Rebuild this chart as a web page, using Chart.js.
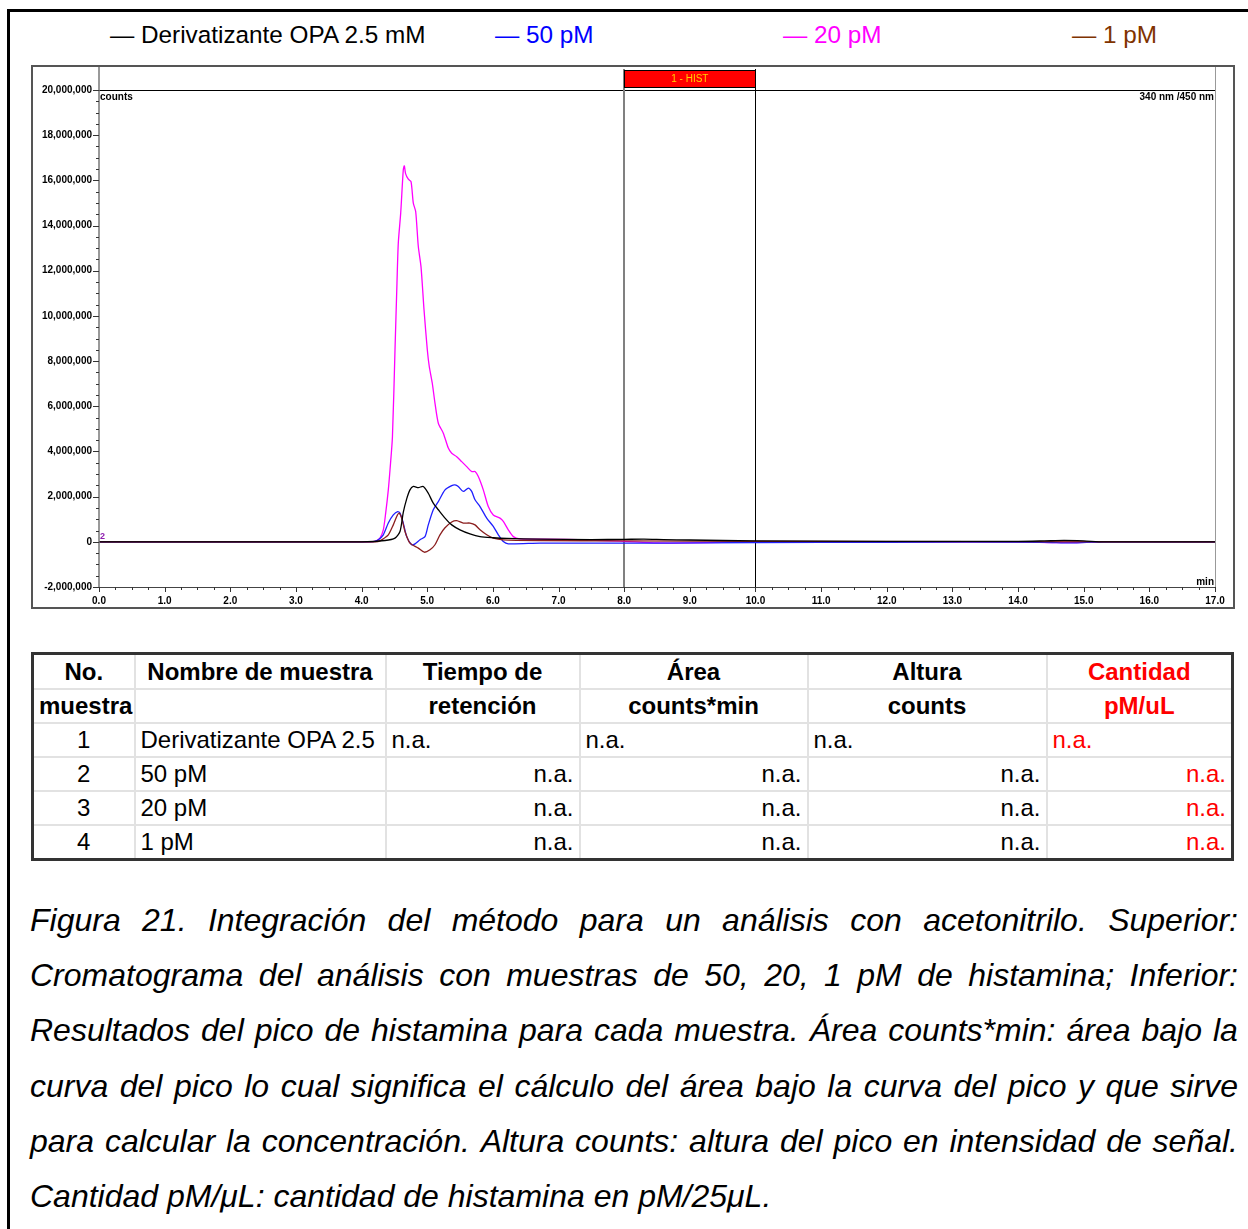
<!DOCTYPE html>
<html>
<head>
<meta charset="utf-8">
<script src="https://cdn.jsdelivr.net/npm/chart.js@4.4.1/dist/chart.umd.min.js"></script>
<style>
    body { margin: 0; background: #fff; font-family: "Liberation Sans", Arial, sans-serif; }
    #page { position: relative; width: 1248px; height: 1229px; overflow: hidden; }
    #frame { position: absolute; left: 7px; top: 9px; width: 1280px; height: 1280px; border: 3px solid #000; }
    .leg { position: absolute; top: 23px; font-size: 24.3px; line-height: 24px; white-space: nowrap; }
    #plotbox { position: absolute; left: 31px; top: 65px; width: 1200px; height: 540px; border: 2px solid #555; }
    #tbl { position: absolute; left: 31px; top: 652px; width: 1200px; border-collapse: collapse; table-layout: fixed;
        border: 3px solid #333; font-size: 24px; }
    #tbl td { border: 2px solid #e2e2e2; padding: 0 5px; height: 32px; line-height: 32px; white-space: nowrap; overflow: hidden; }
    #tbl tr.h1 td { height: 33px; line-height: 33px; }
    #tbl tr.h td { font-weight: bold; text-align: center; }
    #tbl td.c { text-align: center; }
    #tbl td.r { text-align: right; }
    #tbl .red { color: #ff0000; }
    .cap { position: absolute; left: 30px; width: 1208px; height: 55px; line-height: 55px; font-size: 32px;
        font-style: italic; white-space: nowrap; display: flex; justify-content: space-between; }
    .cap.last { justify-content: flex-start; }
</style>
</head>
<body>
<div id="page">
    <div id="frame"></div>
    <div id="legend"></div>
    <div id="plotbox"><canvas id="chromchart" width="1200" height="540"></canvas></div>
    <table id="tbl">
        <colgroup>
            <col style="width:102px"><col style="width:251px"><col style="width:194px">
            <col style="width:228px"><col style="width:239px"><col style="width:186px">
        </colgroup>
        <tr class="h h1"><td>No.</td><td>Nombre de muestra</td><td>Tiempo de</td><td>Área</td><td>Altura</td><td class="red">Cantidad</td></tr>
        <tr class="h"><td>muestra</td><td></td><td>retención</td><td>counts*min</td><td>counts</td><td class="red">pM/uL</td></tr>
        <tbody id="rows"></tbody>
    </table>
    <div id="caption"></div>
</div>
<script>
"use strict";

/* series names and colours */
var seriesNames = ['Derivatizante OPA 2.5 mM', '50 pM', '20 pM', '1 pM'];
var seriesColors = ['#000000', '#1f1fff', '#ff00ff', '#8b1e1e'];
var legendColors = ['#000000', '#0000ff', '#ff00ff', '#7f3300'];
var legendLeft = [110, 495, 783, 1072];

/* black: derivatizante OPA 2.5 mM */
var timeOPA = [0, 4.0, 4.357, 4.509, 4.585, 4.635, 4.687, 4.737, 4.788, 4.864, 4.940, 5.016, 5.092, 5.169,
    5.271, 5.373, 5.499, 5.651, 5.804, 6.006, 6.211, 6.718, 7.5, 8.0, 8.3, 8.6, 9.0, 10.0, 12.0, 14.0,
    14.4, 14.7, 15.0, 15.3, 17.0];
var countsOPA = [0, 0, 58000, 164000, 456000, 1300000, 1900000, 2300000, 2450000, 2400000, 2450000, 2150000,
    1710000, 1420000, 1050000, 750000, 530000, 350000, 230000, 180000, 150000, 120000, 100000, 110000, 120000,
    100000, 80000, 40000, 20000, 20000, 40000, 60000, 40000, 0, 0];

/* blue: 50 pM */
var time50 = [0, 4.0, 4.20, 4.255, 4.331, 4.407, 4.483, 4.550, 4.585, 4.635, 4.687, 4.763, 4.814, 4.890,
    4.966, 5.016, 5.092, 5.169, 5.271, 5.373, 5.423, 5.473, 5.549, 5.626, 5.677, 5.728, 5.804, 5.906, 6.006,
    6.083, 6.159, 6.235, 6.718, 7.5, 8.5, 10.0, 12.0, 14.4, 14.8, 15.3, 17.0];
var counts50 = [0, 0, 15000, 88000, 310000, 830000, 1190000, 1340000, 1270000, 830000, 230000, -130000,
    -90000, 90000, 230000, 750000, 1420000, 1780000, 2300000, 2490000, 2520000, 2450000, 2230000, 2380000,
    2230000, 1860000, 1560000, 1050000, 680000, 310000, 13000, -88000, -58000, -60000, -60000, -30000,
    -20000, -20000, -50000, 0, 0];

/* magenta: 20 pM */
var time20 = [0, 4.0, 4.174, 4.230, 4.280, 4.331, 4.367, 4.407, 4.433, 4.470, 4.509, 4.539, 4.559, 4.596,
    4.635, 4.651, 4.670, 4.712, 4.753, 4.788, 4.824, 4.864, 4.905, 4.951, 5.001, 5.031, 5.077, 5.118, 5.169,
    5.245, 5.321, 5.373, 5.449, 5.525, 5.601, 5.677, 5.728, 5.778, 5.854, 5.930, 6.006, 6.108, 6.159, 6.235,
    6.311, 6.413, 6.718, 7.5, 8.0, 8.5, 9.0, 10.0, 12.0, 14.0, 14.7, 15.3, 17.0];
var counts20 = [0, 0, 13000, 58000, 164000, 531000, 1270000, 2300000, 3190000, 4650000, 8500000, 11450000,
    13220000, 14560000, 16460000, 16640000, 16300000, 16050000, 15940000, 14990000, 14620000, 13070000,
    12180000, 10270000, 8500000, 7760000, 7020000, 6140000, 5250000, 4810000, 4150000, 3920000, 3770000,
    3550000, 3330000, 3110000, 3110000, 2890000, 2300000, 1560000, 1190000, 1050000, 900000, 530000, 230000,
    130000, 120000, 80000, 20000, -50000, -50000, 0, 0, 0, -40000, 0, 0];

/* brown: 1 pM */
var time1 = [0, 4.0, 4.25, 4.306, 4.407, 4.483, 4.535, 4.570, 4.611, 4.661, 4.737, 4.864, 4.955, 5.042,
    5.118, 5.194, 5.271, 5.373, 5.449, 5.549, 5.651, 5.728, 5.804, 5.906, 6.006, 6.159, 6.718, 8.0, 10.0, 17.0];
var counts1 = [0, 0, 15000, 88000, 310000, 750000, 1120000, 1270000, 1050000, 460000, -58000, -280000,
    -460000, -350000, -130000, 310000, 620000, 880000, 940000, 830000, 830000, 750000, 530000, 310000,
    160000, 88000, 58000, 40000, 20000, 0];

/* axes */
var xMin = 0, xMax = 17, xMajor = 1, xMinor = 0.25;
var yMin = -2000000, yMax = 20000000, yMajor = 2000000, yMinor = 500000;
var histWindow = [8.0, 10.0];
var histLabel = '1 - HIST';

/* table */
var sampleNo = ['1', '2', '3', '4'];
var sampleName = ['Derivatizante OPA 2.5', '50 pM', '20 pM', '1 pM'];

var captionLines = [
    'Figura 21. Integración del método para un análisis con acetonitrilo. Superior:',
    'Cromatograma del análisis con muestras de 50, 20, 1 pM de histamina; Inferior:',
    'Resultados del pico de histamina para cada muestra. Área counts*min: área bajo la',
    'curva del pico lo cual significa el cálculo del área bajo la curva del pico y que sirve',
    'para calcular la concentración. Altura counts: altura del pico en intensidad de señal.',
    'Cantidad pM/μL: cantidad de histamina en pM/25μL.'
];

function pairs(xs, ys) {
    return xs.map(function (x, i) { return { x: x, y: ys[i] }; });
}

document.addEventListener("DOMContentLoaded", function () {
    /* legend */
    var legend = document.getElementById('legend');
    seriesNames.forEach(function (name, i) {
        var s = document.createElement('span');
        s.className = 'leg';
        s.style.left = legendLeft[i] + 'px';
        s.style.color = legendColors[i];
        s.textContent = '\u2014 ' + name;
        legend.appendChild(s);
    });

    /* table rows */
    var rows = document.getElementById('rows');
    sampleNo.forEach(function (no, i) {
        var tr = document.createElement('tr');
        var align = i === 0 ? '' : 'r';
        tr.innerHTML = '<td class="c">' + no + '</td><td>' + sampleName[i] + '</td>' +
            '<td class="' + align + '">n.a.</td><td class="' + align + '">n.a.</td>' +
            '<td class="' + align + '">n.a.</td><td class="' + align + ' red">n.a.</td>';
        rows.appendChild(tr);
    });

    /* caption */
    var cap = document.getElementById('caption');
    captionLines.forEach(function (line, i) {
        var d = document.createElement('div');
        d.className = 'cap' + (i === captionLines.length - 1 ? ' last' : '');
        d.style.top = (893 + i * 55.2) + 'px';
        if (i === captionLines.length - 1) {
            d.textContent = line;
        } else {
            line.split(' ').forEach(function (w) {
                var s = document.createElement('span');
                s.textContent = w;
                d.appendChild(s);
            });
        }
        cap.appendChild(d);
    });

    /* chromatogram decorations: frame, ticks, HIST window, texts */
    var decor = {
        id: 'decor',
        beforeDatasetsDraw: function (chart) {
            var ctx = chart.ctx, xs = chart.scales.x, ys = chart.scales.y;
            var a = chart.chartArea;
            var x8 = xs.getPixelForValue(histWindow[0]), x10 = xs.getPixelForValue(histWindow[1]);
            ctx.save();
            /* 20M line */
            ctx.strokeStyle = '#000';
            ctx.lineWidth = 1;
            var yTop = Math.round(ys.getPixelForValue(yMax)) + 0.5;
            ctx.beginPath(); ctx.moveTo(a.left, yTop); ctx.lineTo(a.right, yTop); ctx.stroke();
            /* integration window */
            ctx.strokeStyle = '#808080'; ctx.lineWidth = 2;
            ctx.beginPath(); ctx.moveTo(Math.round(x8), 2); ctx.lineTo(Math.round(x8), a.bottom); ctx.stroke();
            ctx.strokeStyle = '#000'; ctx.lineWidth = 1;
            ctx.beginPath(); ctx.moveTo(Math.round(x10) + 0.5, 2); ctx.lineTo(Math.round(x10) + 0.5, a.bottom); ctx.stroke();
            ctx.fillStyle = '#ff0000';
            ctx.fillRect(x8, 3.5, x10 - x8, 17);
            ctx.strokeStyle = '#000'; ctx.lineWidth = 1;
            ctx.strokeRect(Math.round(x8) + 0.5, 3.5, Math.round(x10 - x8), 17);
            ctx.fillStyle = '#ffd000';
            ctx.font = '10px "Liberation Sans", Arial';
            ctx.textAlign = 'center'; ctx.textBaseline = 'middle';
            ctx.fillText(histLabel, (x8 + x10) / 2, 12);
            ctx.restore();
        },
        afterDraw: function (chart) {
            var ctx = chart.ctx, xs = chart.scales.x, ys = chart.scales.y;
            var a = chart.chartArea;
            ctx.save();
            /* axis lines */
            ctx.strokeStyle = '#777'; ctx.lineWidth = 1.5;
            ctx.beginPath(); ctx.moveTo(a.left, 0); ctx.lineTo(a.left, a.bottom); ctx.stroke();
            ctx.strokeStyle = '#999'; ctx.lineWidth = 1;
            ctx.beginPath(); ctx.moveTo(a.right + 0.5, 0); ctx.lineTo(a.right + 0.5, a.bottom); ctx.stroke();
            ctx.strokeStyle = '#444'; ctx.lineWidth = 1;
            ctx.beginPath(); ctx.moveTo(a.left, a.bottom + 0.5); ctx.lineTo(a.right, a.bottom + 0.5); ctx.stroke();
            /* y ticks */
            ctx.strokeStyle = '#333';
            var nY = Math.round((yMax - yMin) / yMinor);
            for (var i = 0; i <= nY; i++) {
                var v = yMin + i * yMinor;
                var py = Math.round(ys.getPixelForValue(v)) + 0.5;
                var len = (Math.round(v) % yMajor === 0) ? 6 : 3;
                ctx.beginPath(); ctx.moveTo(a.left - len, py); ctx.lineTo(a.left, py); ctx.stroke();
            }
            /* x ticks */
            var nX = Math.round((xMax - xMin) / xMinor);
            for (var j = 0; j <= nX; j++) {
                var xv = xMin + j * xMinor;
                var px = Math.round(xs.getPixelForValue(xv)) + 0.5;
                var l2 = (j % Math.round(xMajor / xMinor) === 0) ? 5 : 3;
                ctx.beginPath(); ctx.moveTo(px, a.bottom); ctx.lineTo(px, a.bottom + l2); ctx.stroke();
            }
            /* labels */
            ctx.fillStyle = '#000';
            ctx.font = 'bold 10px "Liberation Sans", Arial';
            ctx.textBaseline = 'middle';
            ctx.textAlign = 'left';
            ctx.fillText('counts', a.left + 1, 30);
            ctx.textAlign = 'right';
            ctx.fillText('340 nm /450 nm', a.right - 1, 30);
            ctx.fillText('min', a.right - 1, a.bottom - 5);
            ctx.fillStyle = '#9020b0';
            ctx.font = 'bold 9px "Liberation Sans", Arial';
            ctx.textAlign = 'left';
            ctx.fillText('2', a.left + 1, ys.getPixelForValue(250000));
            ctx.restore();
        }
    };

    var datasets = [
        [timeOPA, countsOPA], [time50, counts50], [time20, counts20], [time1, counts1]
    ].map(function (s, i) {
        return {
            label: seriesNames[i],
            data: pairs(s[0], s[1]),
            borderColor: seriesColors[i],
            borderWidth: 1.3,
            pointRadius: 0,
            fill: false,
            tension: 0.25,
        };
    });
    /* draw the black trace on top order like the instrument plot */
    datasets[0].order = 1; datasets[1].order = 3; datasets[2].order = 4; datasets[3].order = 2;

    var ctx = document.getElementById('chromchart').getContext('2d');
    new Chart(ctx, {
        type: 'line',
        data: { datasets: datasets },
        options: {
            responsive: false,
            animation: false,
            layout: { padding: { top: 23, right: 18, left: 0, bottom: 0 } },
            plugins: { legend: { display: false }, tooltip: { enabled: false } },
            scales: {
                x: {
                    type: 'linear', min: xMin, max: xMax,
                    grid: { display: false, drawTicks: false },
                    border: { display: false },
                    afterFit: function (scale) { scale.height = 20; },
                    ticks: {
                        stepSize: xMajor, autoSkip: false, maxRotation: 0, padding: 8, color: '#000',
                        font: { family: '"Liberation Sans", Arial', size: 10, weight: 'bold' },
                        callback: function (v) { return Number(v).toFixed(1); }
                    }
                },
                y: {
                    min: yMin, max: yMax,
                    grid: { display: false, drawTicks: false },
                    border: { display: false },
                    afterFit: function (scale) { scale.width = 66; },
                    ticks: {
                        stepSize: yMajor, padding: 7, color: '#000',
                        font: { family: '"Liberation Sans", Arial', size: 10, weight: 'bold' },
                        callback: function (v) { return Math.round(v).toLocaleString('en-US'); }
                    }
                }
            }
        },
        plugins: [decor]
    });
});
</script>
</body>
</html>
